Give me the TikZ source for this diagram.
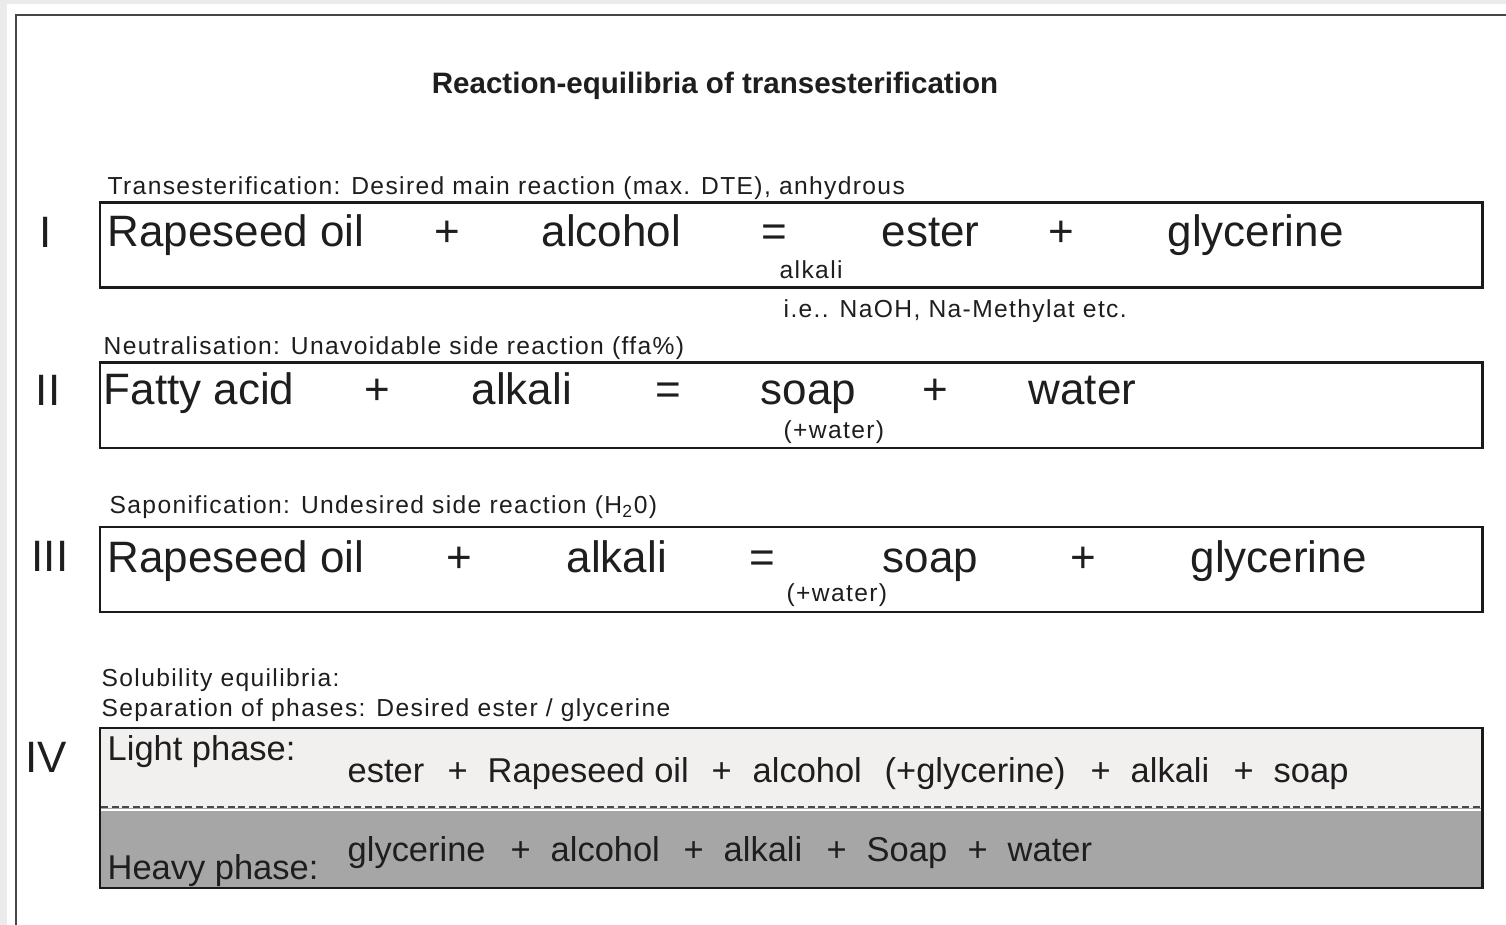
\documentclass[tikz,border=0pt]{standalone}
\usepackage{fontspec}
\setmainfont{Liberation Sans}
\newfontfamily\notefont[LetterSpace=5.5]{Liberation Sans}
\definecolor{txt}{HTML}{1E1E1E}
\definecolor{rim}{HTML}{1A1A1A}
\definecolor{lightph}{HTML}{F2EFEF}
\definecolor{heavyph}{HTML}{A6A6A6}
\definecolor{margin}{HTML}{EBEBEB}
\tikzset{
  term/.style={anchor=base west, inner sep=0pt, text=txt, font=\fontsize{12.5}{14}\selectfont},
  op/.style={term, anchor=base},
  note/.style={anchor=base west, inner sep=0pt, text=txt, font=\notefont\fontsize{7}{8}\selectfont},
  phase/.style={anchor=base west, inner sep=0pt, text=txt, font=\fontsize{9.8}{11}\selectfont},
  eqbox/.style={draw=rim, line width=0.85pt}
}
\begin{document}
\begin{tikzpicture}[x=0.01cm, y=-0.01cm]
  \useasboundingbox (0,0) rectangle (1506,925);
  \fill[margin] (0,0) rectangle (1506,925);
  \fill[white] (7,4) rectangle (1506,925);
  \draw[color=black!72, line width=0.6pt] (16,925) -- (16,15) -- (1506,15);

  \node[anchor=base, inner sep=0pt, text=txt, font=\bfseries\fontsize{8.4}{10}\selectfont] (title) at (715,94) {Reaction-equilibria of transesterification};

  % I
  \node[note] (lab1) at (107,195) {Transesterification: Desired main reaction (max. DTE), anhydrous};
  \draw[eqbox] (100,203) rectangle (1482,288);
  \node[op] (num1) at (46,248) {I};
  \foreach \x/\t [count=\i] in {107/Rapeseed oil, 541/alcohol, 881/ester, 1167/glycerine}
    \node[term] (a\i) at (\x,247) {\t};
  \foreach \x/\t [count=\i] in {447/+, 774/=, 1061/+}
    \node[op] (p\i) at (\x,247) {\t};
  \node[note] (cat1) at (779,279) {alkali};
  \node[note] (cat2) at (783,318) {i.e.. NaOH, Na-Methylat etc.};

  % II
  \node[note] (lab2) at (103,355) {Neutralisation: Unavoidable side reaction (ffa\%)};
  \draw[eqbox] (100,363) rectangle (1482,448);
  \node[op] (num2) at (48,406) {II};
  \foreach \x/\t [count=\i] in {103/Fatty acid, 471/alkali, 760/soap, 1028/water}
    \node[term] (b\i) at (\x,405) {\t};
  \foreach \x/\t [count=\i] in {377/+, 668/=, 935/+}
    \node[op] (q\i) at (\x,405) {\t};
  \node[note] (aq2) at (783,439) {(+water)};

  % III
  \node[note] (lab3) at (109,514) {Saponification: Undesired side reaction (H\textsubscript{2}0)};
  \draw[eqbox] (100,527) rectangle (1482,612);
  \node[op] (num3) at (50,572) {III};
  \foreach \x/\t [count=\i] in {107/Rapeseed oil, 566/alkali, 882/soap, 1190/glycerine}
    \node[term] (c\i) at (\x,573) {\t};
  \foreach \x/\t [count=\i] in {459/+, 762/=, 1083/+}
    \node[op] (r\i) at (\x,573) {\t};
  \node[note] (aq3) at (786,602) {(+water)};

  % IV
  \node[note] (lab4) at (101,687) {Solubility equilibria:};
  \node[note] (lab5) at (101,717) {Separation of phases: Desired ester / glycerine};
  \fill[lightph] (100,728) rectangle (1482,808);
  \fill[heavyph] (100,808) rectangle (1482,888);
  \draw[white, line width=0.5pt] (101,810) -- (1481,810);
  \draw[rim!80, line width=0.5pt, dash pattern=on 2pt off 1pt] (101,807) -- (1481,807);
  \draw[eqbox] (100,728) rectangle (1482,888);
  \node[op] (num4) at (46,772) {IV};
  \node[phase] (light) at (107,761) {Light phase:};
  \node[phase] (heavy) at (107,879) {Heavy phase:};
  \foreach \x/\t [count=\i] in {347/ester, 447/+, 487/Rapeseed oil, 711/+, 752/alcohol, 884/{(+glycerine)}, 1090/+, 1130/alkali, 1233/+, 1273/soap}
    \node[phase] (u\i) at (\x,783) {\t};
  \foreach \x/\t [count=\i] in {347/glycerine, 510/+, 550/alcohol, 683/+, 723/alkali, 826/+, 866/Soap, 967/+, 1007/water}
    \node[phase] (v\i) at (\x,861) {\t};
\end{tikzpicture}
\end{document}
